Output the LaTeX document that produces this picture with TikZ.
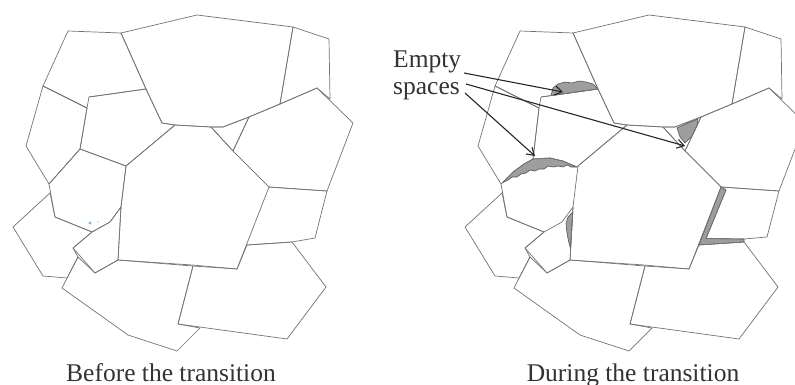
\documentclass[tikz,border=0pt]{standalone}
\usepackage{fontspec}
\setmainfont{Liberation Serif}
\usetikzlibrary{arrows.meta}

% Grain cells that keep their shape in both panels
\newcommand\commoncells{%
  \draw[cell] (68,31) -- (121,33) -- (146,89) -- (89,97) -- (87,108) -- (43,86) -- cycle;
  \draw[cell] (121,33) -- (197,15) -- (293,27) -- (280,104) -- (249,117) -- (223,127) -- (211,127) -- (175,125) -- (162,123) -- (146,89) -- cycle;
  \draw[cell] (293,27) -- (329,39) -- (330,99) -- (317,88) -- (280,104) -- cycle;
  \draw[cell] (317,88) -- (353,123) -- (327,191) -- (269,187) -- (233,151) -- (249,117) -- (280,104) -- cycle;
  \draw[cell] (211,127) -- (223,127) -- (249,117) -- (233,151) -- cycle;
  \draw[cell] (175,125) -- (211,127) -- (233,151) -- (269,187) -- (237,269) -- (192,265) -- (118,260) -- (121,207) -- (126,166) -- cycle;
  \draw[cell] (73,248) -- (92,232) -- (110,222) -- (121,207) -- (118,260) -- (95,273) -- cycle;
  \draw[cell] (13,227) -- (50,193) -- (55,217) -- (92,232) -- (73,248) -- (78,257) -- (67,278) -- (43,276) -- cycle;
  \draw[cell] (78,257) -- (62,288) -- (128,335) -- (177,351) -- (200,328) -- (178,324) -- (193,266) -- (118,260) -- (95,273) -- cycle;
  \draw[cell] (193,266) -- (237,269) -- (247,245) -- (292,242) -- (326,287) -- (287,339) -- (178,324) -- cycle;
}

\begin{document}
\begin{tikzpicture}[x=1pt,y=-1pt,
  cell/.style={draw=black!55, line width=0.7pt, line join=round},
  gap/.style={fill=black!38, draw=black!68, line width=0.6pt, line join=round},
  pointer/.style={draw=black!85, line width=1.1pt,
    -{Straight Barb[length=7pt,width=9pt,line width=1.1pt]}},
  caption/.style={font=\fontsize{25.5}{27}\selectfont, text=black!80, inner sep=0pt}]
\useasboundingbox (0,0) rectangle (795,385);

% ---------- left panel: before the transition ----------
\begin{scope}
  \commoncells
  \draw[cell] (43,86) -- (87,108) -- (80,149) -- (49,184) -- (26,146) -- cycle;
  \draw[cell] (89,97) -- (146,89) -- (162,123) -- (175,125) -- (126,166) -- (80,149) -- (87,108);
  \draw[cell] (49,184) -- (80,149) -- (126,166) -- (121,207) -- (110,222) -- (92,232) -- (55,217) -- cycle;
  \draw[cell] (269,187) -- (327,191) -- (315,238) -- (292,242) -- (247,245);
  \fill[blue!45!cyan!60!white] (90,223) circle (1.6);
  \fill[black!35] (98,222) circle (0.7);
\end{scope}

% ---------- right panel: during the transition ----------
\begin{scope}[xshift=452pt]
  % empty spaces opening between the cells
  \path[gap] (99,95.6) -- (101,88) -- (106,84) -- (113,82) -- (120,83) -- (127,81)
    -- (134,82) -- (141,84) -- (146,89) -- cycle;
  \path[gap] (225,128) -- (236,123) -- (246,119) -- (245,126) -- (240,136)
    -- (233,143) -- (228,137) -- cycle;
  \path[gap] (50,183) -- (61,172) -- (72,164) -- (81,159) -- (98,158) -- (111,161) -- (125,167)
    -- (119,167) -- (115,165) -- (111,167) -- (106,166) -- (101,167) -- (96,166) -- (92,169)
    -- (87,169) -- (83,171) -- (78,170) -- (74,173) -- (69,174) -- (65,177) -- (60,177)
    -- (56,180) -- (52,182) -- cycle;
  \path[gap] (120.8,212) -- (118.6,249) -- (117,243) -- (115.5,236) -- (114.5,229)
    -- (114,223) -- (116,217) -- cycle;
  \path[gap] (269,187) -- (274,190) -- (254,238.5) -- (292,239) -- (292,242)
    -- (247,245) -- cycle;

  \commoncells
  \draw[cell] (43,86) -- (87,108) -- (81,159) -- (72,164) -- (61,172) -- (49,184) -- (26,146) -- cycle;
  \draw[cell] (89,97) -- (146,89) -- (162,123) -- (175,125) -- (126,166) -- (125,167)
    -- (111,161) -- (98,158) -- (81,159) -- (87,108);
  \draw[cell] (49,184) -- (55,217) -- (92,232);
  \draw[cell] (269,187) -- (327,191) -- (315,237) -- (292,239) -- (254,238.5) -- (274,190);
\end{scope}

% ---------- labels ----------
\node[caption, anchor=base] (before) at (171,381) {Before the transition};
\node[caption, anchor=base] (during) at (633,381) {During the transition};
\node[caption, anchor=base west] (empty) at (393,68) {Empty};
\node[caption, anchor=base west] (spaces) at (393,95) {spaces};

% arrows from the label to the empty spaces
\coordinate (s1) at (464,73);
\coordinate (s2) at (466,84);
\coordinate (s3) at (465,93);
\coordinate (t1) at (563,92);
\coordinate (t2) at (685,146);
\coordinate (t3) at (535,156);
\draw[pointer] (s1) -- (t1);
\draw[pointer] (s2) -- (t2);
\draw[pointer] (s3) -- (t3);
\end{tikzpicture}
\end{document}
